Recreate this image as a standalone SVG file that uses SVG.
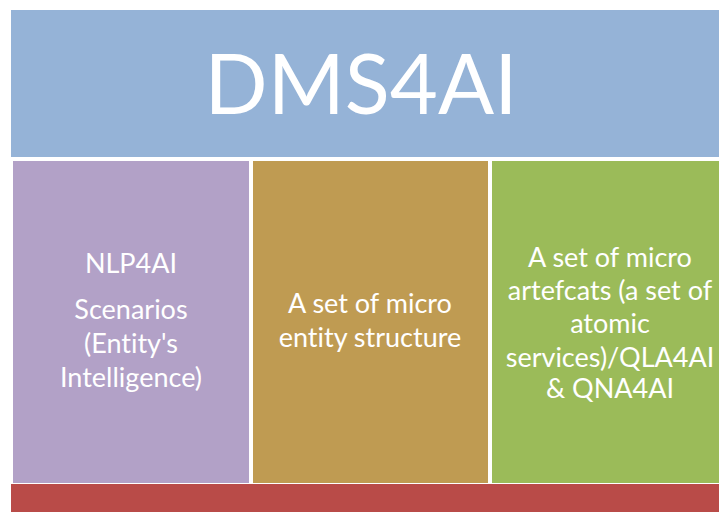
<svg xmlns="http://www.w3.org/2000/svg" width="719" height="512" viewBox="0 0 719 512">
  <style>
    .lbl { font-family: Lato, "Open Sans", "Liberation Sans", sans-serif; fill: #ffffff; text-anchor: middle; font-variant-ligatures: none; font-feature-settings: "liga" 0, "dlig" 0; }
    .title { font-size: 83px; }
    .body { font-size: 27px; }
  </style>
  <rect width="719" height="512" fill="#ffffff"/>
  <g id="header">
    <rect x="11" y="10" width="708" height="147" fill="#95b3d7"/>
    <text class="lbl title" x="361" y="114">DMS4AI</text>
  </g>
  <g id="nlp4ai">
    <rect x="13" y="161" width="236" height="322" fill="#b2a1c7"/>
    <text class="lbl body" x="131" y="273">NLP4AI</text>
    <text class="lbl body" x="131" y="319">Scenarios</text>
    <text class="lbl body" x="131" y="353">(Entity's</text>
    <text class="lbl body" x="131" y="387">Intelligence)</text>
  </g>
  <g id="entity-structure">
    <rect x="253" y="161" width="235" height="322" fill="#bf9b52"/>
    <text class="lbl body" x="370" y="313">A set of micro</text>
    <text class="lbl body" x="370" y="347">entity structure</text>
  </g>
  <g id="artefacts">
    <rect x="492" y="161" width="227" height="322" fill="#9bbb59"/>
    <text class="lbl body" x="610" y="267">A set of micro</text>
    <text class="lbl body" x="610" y="300">artefcats (a set of</text>
    <text class="lbl body" x="610" y="333">atomic</text>
    <text class="lbl body" x="610" y="367">services)/QLA4AI</text>
    <text class="lbl body" x="610" y="398">&amp; QNA4AI</text>
  </g>
  <g id="base">
    <rect x="11" y="484" width="708" height="28" fill="#b94b48"/>
  </g>
  <g id="connectors"/>
</svg>
